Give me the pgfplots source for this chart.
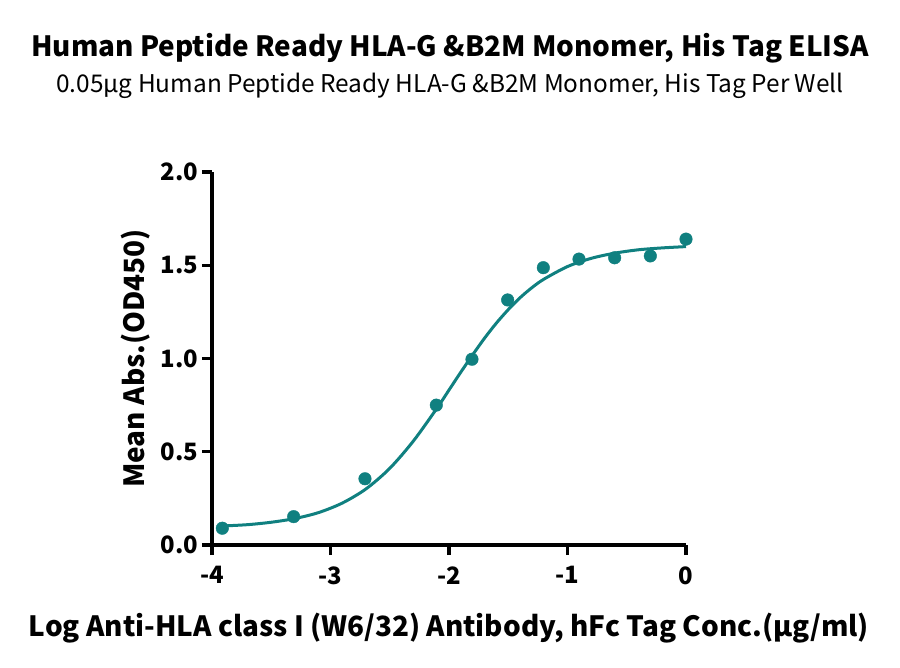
\documentclass[border=0pt]{standalone}
\usepackage{pgfplots}
\pgfplotsset{compat=1.18}
\usepackage{fontspec}
\setmainfont{Noto Sans CJK SC}
\definecolor{teal1}{RGB}{16,128,128}

\begin{document}
\begin{tikzpicture}
\useasboundingbox (0,0) rectangle (900bp,668bp);
\node[font=\fontsize{28}{32}\selectfont\bfseries] at (450bp,620bp) {Human Peptide Ready HLA-G \&B2M Monomer, His Tag ELISA};
\node[font=\fontsize{24.5}{28}\selectfont] at (450bp,582bp) {0.05μg Human Peptide Ready HLA-G \&B2M Monomer, His Tag Per Well};
\begin{axis}[
    at={(212bp,123bp)}, anchor=south west,
    scale only axis,
    width=474bp, height=373bp,
    xmin=-4, xmax=0, ymin=0, ymax=2,
    axis x line*=bottom, axis y line*=left,
    axis line style={line width=3.2bp, -},
    xtick={-4,-3,-2,-1,0},
    ytick={0,0.5,1,1.5,2},
    yticklabel style={/pgf/number format/fixed, /pgf/number format/fixed zerofill, /pgf/number format/precision=1},
    /pgf/number format/assume math mode=true,
    tick align=outside,
    major tick length=10bp,
    tick style={line width=3.2bp, black},
    tick label style={font=\fontsize{24}{26}\selectfont\bfseries},
    xticklabel style={yshift=-8bp},
    label style={font=\fontsize{28}{32}\selectfont\bfseries},
    xlabel={Log Anti-HLA class I (W6/32) Antibody, hFc Tag Conc.(μg/ml)},
    ylabel={Mean Abs.(OD450)},
    xlabel style={yshift=-22bp},
    ylabel style={yshift=4bp},
    clip=false,
]
% fitted curve
\addplot[teal1, line width=3bp, smooth] coordinates {
    (-3.91,0.102) (-3.7,0.109) (-3.5,0.122) (-3.3,0.142) (-3.1,0.174)
    (-2.9,0.225) (-2.7,0.301) (-2.5,0.411) (-2.3,0.558) (-2.1,0.735)
    (-2.0,0.831) (-1.9,0.927) (-1.8,1.020) (-1.7,1.109) (-1.6,1.190)
    (-1.5,1.262) (-1.4,1.326) (-1.3,1.380) (-1.2,1.425) (-1.0,1.493)
    (-0.8,1.537) (-0.6,1.565) (-0.4,1.583) (-0.2,1.593) (0,1.600)
};
% measured points
\addplot[only marks, mark=*, mark size=6.3bp, teal1] coordinates {
    (-3.913,0.09) (-3.311,0.152) (-2.709,0.355) (-2.107,0.75)
    (-1.806,0.996) (-1.505,1.314) (-1.204,1.487) (-0.903,1.533)
    (-0.602,1.54) (-0.301,1.55) (0,1.64)
};
\end{axis}
\end{tikzpicture}
\end{document}
